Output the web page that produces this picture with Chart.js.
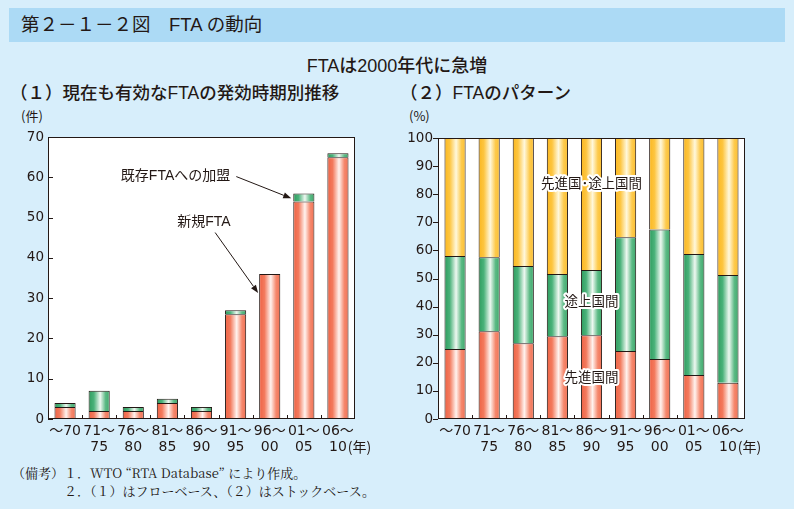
<!DOCTYPE html>
<html lang="ja">
<head>
<meta charset="utf-8">
<title>FTA の動向</title>
<script src="https://cdn.jsdelivr.net/npm/chart.js@4/dist/chart.umd.min.js"></script>
<style>
  body {
    margin: 0;
    width: 794px;
    height: 509px;
    position: relative;
    overflow: hidden;
    background: #d7eefb;
    color: #231815;
    font-family: "Liberation Sans", "Noto Sans CJK JP", sans-serif;
  }
  .t { position: absolute; white-space: nowrap; }
  #band { position: absolute; left: 9px; top: 8px; width: 776px; height: 34px; background: #acdaf5; }
  #title { left: 21px; top: 14px; font-size: 18.5px; line-height: 22px; }
  #sub { left: 0; width: 794px; text-align: center; top: 55px; font-size: 18px; line-height: 22px; font-weight: 500; }
  .sec { top: 82px; font-size: 17.5px; line-height: 22px; font-weight: 500; }
  .unit { top: 107px; font-size: 13px; line-height: 18px; font-family: "Noto Sans CJK JP", sans-serif; }
  .note { font-family: "Noto Serif CJK JP", "Liberation Serif", "Noto Sans CJK JP", serif; font-size: 13px; line-height: 18px; }
  canvas { position: absolute; top: 125px; }
</style>
</head>
<body>
<div id="band"></div>
<div class="t" id="title">第２－１－２図　FTA の動向</div>
<div class="t" id="sub">FTAは2000年代に急増</div>
<div class="t sec" style="left:10px">（１）現在も有効なFTAの発効時期別推移</div>
<div class="t sec" style="left:400px">（２）FTAのパターン</div>
<div class="t unit" style="left:21px">(件)</div>
<div class="t unit" style="left:409px">(%)</div>
<canvas id="flow" width="397" height="335" style="left:0"></canvas>
<canvas id="stock" width="397" height="335" style="left:397px"></canvas>
<div class="t note" style="left:12px; top:464px">（備考）１．WTO “RTA Database” により作成。</div>
<div class="t note" style="left:64px; top:482px">２．（１）はフローベース、（２）はストックベース。</div>

<script>
// periods (x axis), shared by both panels
const periods = [["～70"], ["71～", "75"], ["76～", "80"], ["81～", "85"], ["86～", "90"],
                 ["91～", "95"], ["96～", "00"], ["01～", "05"], ["06～", "10"]];

// (1) flow basis, number of FTAs
const newFta = [3, 2, 2, 4, 2, 26, 36, 54, 65];
const joinFta = [1, 5, 1, 1, 1, 1, 0, 2, 1];
const flowTicks = { min: 0, max: 70, step: 10 };

// (2) stock basis, share in %
const northNorth = [24.9, 31.2, 27.0, 29.5, 29.8, 24.2, 21.4, 15.7, 12.9];
const southSouth = [33.1, 26.4, 27.5, 22.1, 23.2, 40.5, 46.1, 43.0, 38.4];
const northSouth = [42.0, 42.4, 45.5, 48.4, 47.0, 35.3, 32.5, 41.3, 48.7];
const stockTicks = { min: 0, max: 100, step: 10 };

const INK = "#231815";
const BAR_PCT = 0.62;
const RED = ["#ee6244", "#f37a5d", "#fff3ef", "#f5886d", "#f17053"];
const GREEN = ["#2e9c5e", "#4ab27a", "#eef8f1", "#5cba85", "#3ea86b"];
const YELLOW = ["#fbb71e", "#fdc540", "#fff8dc", "#fdca4d", "#fcbe2f"];
const STOPS = [0, 0.25, 0.55, 0.8, 1];

Chart.defaults.font.family = "'DejaVu Sans', 'Noto Sans CJK JP', sans-serif";
Chart.defaults.color = INK;

// horizontal shine across each bar
function shine(cols) {
  return (c) => {
    const chart = c.chart;
    const xs = chart.scales.x;
    if (!chart.chartArea || !xs || c.type !== "data") return cols[1];
    const cx = xs.getPixelForValue(c.dataIndex);
    const w = xs.width / periods.length * BAR_PCT;
    const g = chart.ctx.createLinearGradient(cx - w / 2, 0, cx + w / 2, 0);
    STOPS.forEach((s, i) => g.addColorStop(s, cols[i]));
    return g;
  };
}

function arrow(ctx, x1, y1, x2, y2) {
  const a = Math.atan2(y2 - y1, x2 - x1);
  const len = 8, half = 3;
  ctx.beginPath();
  ctx.moveTo(x1, y1);
  ctx.lineTo(x2 - len * Math.cos(a), y2 - len * Math.sin(a));
  ctx.stroke();
  ctx.beginPath();
  ctx.moveTo(x2, y2);
  ctx.lineTo(x2 - len * Math.cos(a) + half * Math.sin(a), y2 - len * Math.sin(a) - half * Math.cos(a));
  ctx.lineTo(x2 - len * Math.cos(a) - half * Math.sin(a), y2 - len * Math.sin(a) + half * Math.cos(a));
  ctx.closePath();
  ctx.fill();
}

// white plot box, frame, short tick marks, "(年)" after last label
const frame = {
  id: "frame",
  beforeDatasetsDraw(chart) {
    const { ctx, chartArea: a } = chart;
    ctx.save();
    ctx.fillStyle = "#fff";
    ctx.fillRect(a.left, a.top, a.right - a.left, a.bottom - a.top);
    ctx.restore();
  },
  afterDraw(chart, args, opts) {
    const { ctx, chartArea: a, scales: { x, y } } = chart;
    ctx.save();
    ctx.strokeStyle = INK;
    ctx.lineWidth = 1;
    ctx.strokeRect(Math.round(a.left) + 0.5, Math.round(a.top) + 0.5,
                   Math.round(a.right - a.left) - 1, Math.round(a.bottom - a.top) - 1);
    ctx.beginPath();
    y.ticks.forEach(t => {
      const py = Math.round(y.getPixelForValue(t.value)) + 0.5;
      if (opts.inner) { ctx.moveTo(a.left, py); ctx.lineTo(a.left + 5, py); }
      else { ctx.moveTo(a.left - 5, py); ctx.lineTo(a.left, py); }
    });
    for (let i = 1; i < periods.length; i++) {
      const px = Math.round(x.getPixelForValue(i - 0.5)) + 0.5;
      ctx.moveTo(px, a.bottom - 4);
      ctx.lineTo(px, a.bottom);
    }
    ctx.stroke();

    const last = periods.length - 1;
    ctx.font = "14px 'DejaVu Sans'";
    const w = ctx.measureText(periods[last][1]).width;
    ctx.font = "14px 'Noto Sans CJK JP'";
    ctx.fillStyle = INK;
    ctx.textBaseline = "middle";
    ctx.textAlign = "left";
    ctx.fillText("(年)", x.getPixelForValue(last) + w / 2 + 1, x.top + 4 + 24);
    ctx.restore();
  }
};

// text notes placed in data coordinates
const notes = {
  id: "notes",
  afterDatasetsDraw(chart, args, opts) {
    const { ctx, scales: { x, y } } = chart;
    ctx.save();
    ctx.font = opts.font;
    ctx.textAlign = "center";
    ctx.textBaseline = "middle";
    ctx.lineJoin = "round";
    (opts.labels || []).forEach(l => {
      const px = x.getPixelForValue(l.at[0]), py = y.getPixelForValue(l.at[1]);
      if (opts.halo) {
        ctx.strokeStyle = "#fff";
        ctx.lineWidth = 4;
        ctx.strokeText(l.text, px, py);
      }
      ctx.fillStyle = INK;
      ctx.fillText(l.text, px, py);
      if (l.from) {
        ctx.strokeStyle = INK;
        ctx.lineWidth = 1;
        arrow(ctx, x.getPixelForValue(l.from[0]), y.getPixelForValue(l.from[1]),
              x.getPixelForValue(l.to[0]), y.getPixelForValue(l.to[1]));
      }
    });
    ctx.restore();
  }
};

function bars(label, data, cols) {
  return {
    label, data,
    backgroundColor: shine(cols),
    borderColor: INK,
    borderWidth: 1,
    barPercentage: BAR_PCT,
    categoryPercentage: 1
  };
}

function options(t, yWidth, padRight, inner, noteOpts) {
  return {
    responsive: false,
    animation: false,
    layout: { padding: { top: 10, right: padRight, left: 0, bottom: 0 } },
    plugins: {
      legend: { display: false },
      tooltip: { enabled: false },
      frame: { inner },
      notes: noteOpts
    },
    scales: {
      x: {
        stacked: true,
        grid: { display: false, drawTicks: false },
        border: { display: false },
        ticks: { font: { size: 14, lineHeight: "16px" }, padding: 4, maxRotation: 0, autoSkip: false },
        afterFit(s) { s.height = 41; }
      },
      y: {
        stacked: true,
        min: t.min, max: t.max,
        grid: { display: false, drawTicks: false },
        border: { display: false },
        ticks: { stepSize: t.step, font: { size: 13.5 }, padding: inner ? 4 : 5 },
        afterFit(s) { s.width = yWidth; }
      }
    }
  };
}

new Chart(document.getElementById("flow"), {
  type: "bar",
  data: {
    labels: periods,
    datasets: [bars("新規FTA", newFta, RED), bars("既存FTAへの加盟", joinFta, GREEN)]
  },
  options: options(flowTicks, 48, 42, true, {
    font: "14px 'Liberation Sans', 'Noto Sans CJK JP'",
    halo: false,
    labels: [
      { text: "既存FTAへの加盟", at: [3.24, 60.4], from: [5.02, 60.2], to: [6.63, 54.8] },
      { text: "新規FTA", at: [4.07, 48.9], from: [4.4, 46.3], to: [5.66, 31.3] }
    ]
  }),
  plugins: [frame, notes]
});

new Chart(document.getElementById("stock"), {
  type: "bar",
  data: {
    labels: periods,
    datasets: [
      bars("先進国間", northNorth, RED),
      bars("途上国間", southSouth, GREEN),
      bars("先進国･途上国間", northSouth, YELLOW)
    ]
  },
  options: options(stockTicks, 41, 49, false, {
    font: "13.5px 'Noto Sans CJK JP'",
    halo: true,
    labels: [
      { text: "先進国･途上国間", at: [4, 84.2] },
      { text: "途上国間", at: [4, 41.9] },
      { text: "先進国間", at: [4, 14.9] }
    ]
  }),
  plugins: [frame, notes]
});
</script>
</body>
</html>
